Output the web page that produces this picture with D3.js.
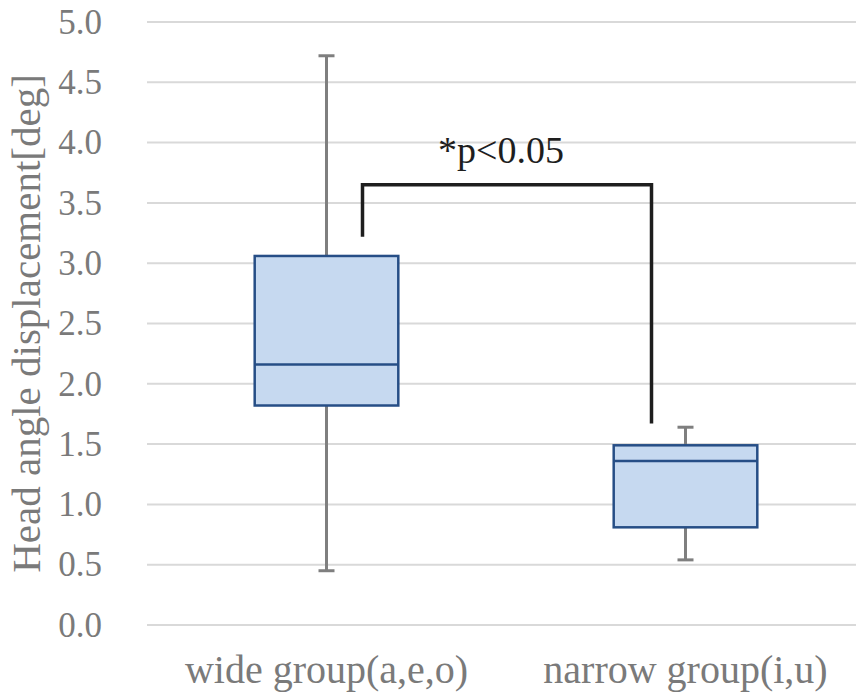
<!DOCTYPE html>
<html>
<head>
<meta charset="utf-8">
<script src="https://cdn.jsdelivr.net/npm/d3@7"></script>
<style>
  body { margin: 0; background: #fff; }
  text { font-family: "Liberation Serif", "Times New Roman", serif; }
</style>
</head>
<body>
<div id="chart"></div>
<script>
// data
var categories = ["wide group(a,e,o)", "narrow group(i,u)"]
var whiskerLow  = [0.45, 0.54]
var quartile1   = [1.82, 0.81]
var medians     = [2.16, 1.36]
var quartile3   = [3.06, 1.49]
var whiskerHigh = [4.72, 1.64]
var yTicks = [0, 0.5, 1, 1.5, 2, 2.5, 3, 3.5, 4, 4.5, 5]

// significance bracket: top level and the two leg ends
var bracketTop = 3.65
var bracketEnds = [3.22, 1.67]
var sigLabel = "*p<0.05"

var width = 856, height = 692
var margin = {top: 22, right: -9, bottom: 67, left: 147}
var serif = "Liberation Serif"

var boxes = categories.map(function (c, i) {
  return {cat: c, lo: whiskerLow[i], q1: quartile1[i], med: medians[i], q3: quartile3[i], hi: whiskerHigh[i]}
})

var svg = d3.select("#chart").append("svg")
  .attr("width", width)
  .attr("height", height)

var x = d3.scaleBand()
  .domain(categories)
  .range([margin.left, width - margin.right])
  .paddingInner(0.6)
  .paddingOuter(0.3)

var y = d3.scaleLinear()
  .domain([0, 5])
  .range([height - margin.bottom, margin.top])

// gridlines
svg.append("g")
  .selectAll("line")
  .data(yTicks)
  .enter().append("line")
  .attr("x1", margin.left)
  .attr("x2", width)
  .attr("y1", d => y(d))
  .attr("y2", d => y(d))
  .attr("stroke", "#d9d9d9")
  .attr("stroke-width", 2)

// y axis labels
var yAxis = svg.append("g")
  .attr("transform", "translate(" + (margin.left - 45) + ",0)")
  .call(d3.axisLeft(y).tickValues(yTicks).tickFormat(d3.format(".1f")).tickSize(0).tickPadding(0))
yAxis.select(".domain").remove()
yAxis.selectAll("text")
  .attr("font-size", 35)
  .attr("fill", "#7a7a7a")
  .attr("font-family", serif)

// x axis labels
var xAxis = svg.append("g")
  .attr("transform", "translate(0," + (height - margin.bottom) + ")")
  .call(d3.axisBottom(x).tickSize(0).tickPadding(30))
xAxis.select(".domain").remove()
xAxis.selectAll("text")
  .attr("font-size", 40)
  .attr("fill", "#7a7a7a")
  .attr("font-family", serif)

// y axis title
svg.append("text")
  .attr("transform", "translate(26," + y(2.5) + ") rotate(-90)")
  .attr("text-anchor", "middle")
  .attr("dy", "0.35em")
  .attr("font-size", 41)
  .attr("font-family", serif)
  .attr("fill", "#7a7a7a")
  .text("Head angle displacement[deg]")

var g = svg.append("g").selectAll("g")
  .data(boxes)
  .enter().append("g")

var cx = d => x(d.cat) + x.bandwidth() / 2
var capW = 8

// whiskers
g.append("line")
  .attr("x1", cx).attr("x2", cx)
  .attr("y1", d => y(d.q3)).attr("y2", d => y(d.hi))
  .attr("stroke", "#7f7f7f").attr("stroke-width", 3)
g.append("line")
  .attr("x1", cx).attr("x2", cx)
  .attr("y1", d => y(d.q1)).attr("y2", d => y(d.lo))
  .attr("stroke", "#7f7f7f").attr("stroke-width", 3)
g.append("line")
  .attr("x1", d => cx(d) - capW).attr("x2", d => cx(d) + capW)
  .attr("y1", d => y(d.hi)).attr("y2", d => y(d.hi))
  .attr("stroke", "#7f7f7f").attr("stroke-width", 3)
g.append("line")
  .attr("x1", d => cx(d) - capW).attr("x2", d => cx(d) + capW)
  .attr("y1", d => y(d.lo)).attr("y2", d => y(d.lo))
  .attr("stroke", "#7f7f7f").attr("stroke-width", 3)

// boxes
g.append("rect")
  .attr("x", d => x(d.cat))
  .attr("width", x.bandwidth())
  .attr("y", d => y(d.q3))
  .attr("height", d => y(d.q1) - y(d.q3))
  .attr("fill", "#c6d9f0")
  .attr("stroke", "#264e86")
  .attr("stroke-width", 2.5)

// medians
g.append("line")
  .attr("x1", d => x(d.cat)).attr("x2", d => x(d.cat) + x.bandwidth())
  .attr("y1", d => y(d.med)).attr("y2", d => y(d.med))
  .attr("stroke", "#264e86").attr("stroke-width", 2.5)

// significance bracket
var bx1 = cx(boxes[0]) + 36
var bx2 = cx(boxes[1]) - 34
svg.append("path")
  .attr("d", d3.line()([
    [bx1, y(bracketEnds[0])],
    [bx1, y(bracketTop)],
    [bx2, y(bracketTop)],
    [bx2, y(bracketEnds[1])]
  ]))
  .attr("fill", "none")
  .attr("stroke", "#1e1e1e")
  .attr("stroke-width", 3.5)

svg.append("text")
  .attr("x", (bx1 + bx2) / 2 - 6)
  .attr("y", y(bracketTop) - 22)
  .attr("text-anchor", "middle")
  .attr("font-size", 38)
  .attr("font-family", serif)
  .attr("fill", "#1e1e1e")
  .text(sigLabel)
</script>
</body>
</html>
